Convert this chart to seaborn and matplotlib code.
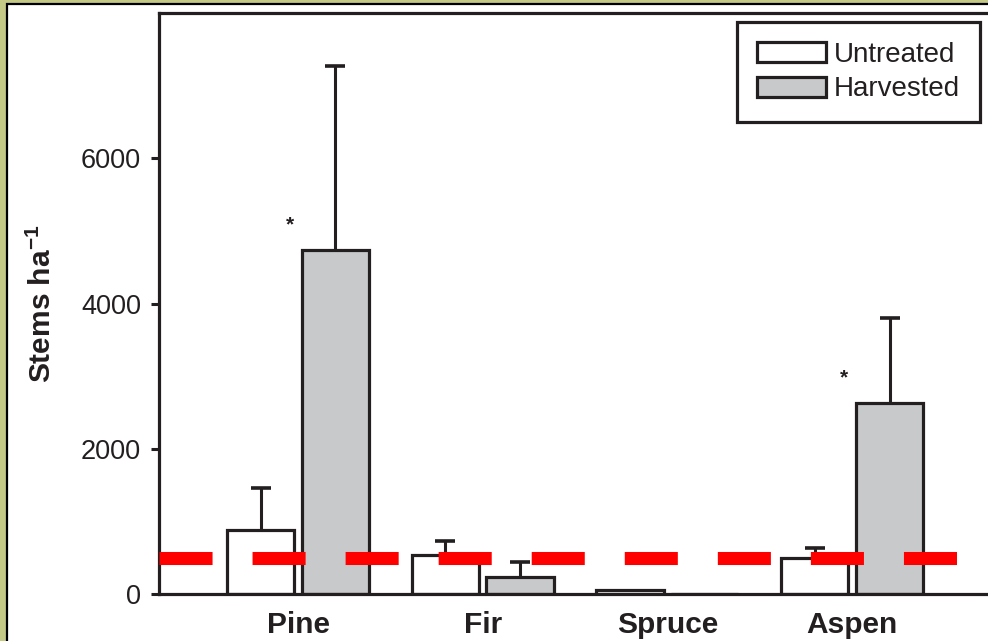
import matplotlib
matplotlib.use("Agg")
import matplotlib.pyplot as plt
from matplotlib.patches import Patch, Rectangle
import numpy as np
import pandas as pd
import seaborn as sns

# Stand densities by species and treatment
species = ["Pine", "Fir", "Spruce", "Aspen"]
treatments = ["Untreated", "Harvested"]
untreated_mean = [880, 540, 55, 490]
harvested_mean = [4730, 240, 0, 2630]
untreated_upper = [1460, 725, 55, 630]
harvested_upper = [7270, 440, 0, 3800]
significance_y = [5080, None, None, 2970]
threshold = 500
y_ticks = [0, 2000, 4000, 6000]

INK = "#231F20"
GREY = "#C8C9CB"

sns.set_theme(style="white")
plt.rcParams["font.family"] = ["Liberation Sans", "DejaVu Sans"]
plt.rcParams["mathtext.fontset"] = "custom"
plt.rcParams["mathtext.rm"] = "Liberation Sans"
plt.rcParams["mathtext.bf"] = "Liberation Sans:bold"
plt.rcParams["lines.scale_dashes"] = False

df = pd.DataFrame({
    "species": species * 2,
    "treatment": [treatments[0]] * 4 + [treatments[1]] * 4,
    "stems": untreated_mean + harvested_mean,
})
upper = {(s, treatments[0]): u for s, u in zip(species, untreated_upper)}
upper.update({(s, treatments[1]): u for s, u in zip(species, harvested_upper)})

W, H = 988, 641
fig = plt.figure(figsize=(W / 100, H / 100), dpi=100)
fig.patch.set_facecolor("#C4C986")
# page frame
fig.add_artist(Rectangle((7 / W, -0.1), 1.2, (H - 4) / H + 0.1, transform=fig.transFigure,
                         facecolor="white", edgecolor="black", linewidth=1.6, zorder=-10))

ax_left = 158.5 / W
ax_right = 1000 / W
ax_bottom = (H - 594) / H
ax_top = (H - 13) / H
ax = fig.add_axes([ax_left, ax_bottom, ax_right - ax_left, ax_top - ax_bottom])
ax.set_facecolor("none")

sns.barplot(data=df, x="species", y="stems", hue="treatment", order=species,
            hue_order=treatments, palette={"Untreated": "white", "Harvested": GREY},
            saturation=1, errorbar=None, width=0.81, gap=0.1, edgecolor=INK,
            linewidth=2.3, legend=False, ax=ax, zorder=2)

# one-sided (upper) error bars placed on each bar
for p in list(ax.patches):
    cx = p.get_x() + p.get_width() / 2
    idx = int(round(cx))
    trt = treatments[0] if cx < idx else treatments[1]
    top = p.get_height()
    up = upper[(species[idx], trt)]
    if up > top:
        _, caps, _ = ax.errorbar([cx], [top], yerr=[[0], [up - top]], fmt="none", ecolor=INK,
                                 elinewidth=2.2, capsize=7.5, capthick=2.6, zorder=3)
        for cap in caps:
            if np.allclose(cap.get_ydata(), top):
                cap.set_visible(False)

for i, sy in enumerate(significance_y):
    if sy is not None:
        ax.text(i - 0.045, sy, "*", ha="center", va="center", fontsize=15,
                fontweight="bold", color=INK, zorder=4)

ax.axhline(threshold, color="#FF0000", linewidth=9.4, dashes=(38.2, 28.8),
           solid_capstyle="butt", dash_capstyle="butt", zorder=5)

ax.set_ylim(0, 8000)
ax.set_xlim(-(298 - 158.5) / 184.7, (1000 - 298) / 184.7)
ax.set_yticks(y_ticks)
ax.set_yticklabels([str(t) for t in y_ticks])
ax.tick_params(axis="y", direction="out", length=5.5, width=2.2, color=INK,
               labelsize=19.5, labelcolor=INK, pad=7, left=True)
ax.tick_params(axis="x", length=0, labelsize=21.5, labelcolor=INK, pad=12)
for lbl in ax.get_xticklabels():
    lbl.set_fontweight("bold")

ax.set_xlabel("")
ax.set_ylabel(r"Stems ha$^{\mathbf{-1}}$", fontsize=21.5, fontweight="bold", color=INK, labelpad=17)

for side in ["top", "left", "bottom"]:
    ax.spines[side].set_visible(True)
    ax.spines[side].set_color(INK)
    ax.spines[side].set_linewidth(2.3)
ax.spines["right"].set_visible(False)

handles = [Patch(facecolor="white", edgecolor=INK, linewidth=2.3, label=treatments[0]),
           Patch(facecolor=GREY, edgecolor=INK, linewidth=2.3, label=treatments[1])]
leg = fig.legend(handles=handles, loc="upper right", bbox_to_anchor=(980 / W, 1 - 22 / H),
                 fontsize=20, frameon=True, fancybox=False, framealpha=1,
                 handlelength=2.45, handleheight=0.72, handletextpad=0.3,
                 labelspacing=0.3, borderpad=0.72, borderaxespad=0)
leg.get_frame().set_edgecolor(INK)
leg.get_frame().set_linewidth(2.3)
for t in leg.get_texts():
    t.set_color(INK)

fig.savefig("out.png", dpi=100, facecolor=fig.get_facecolor())
